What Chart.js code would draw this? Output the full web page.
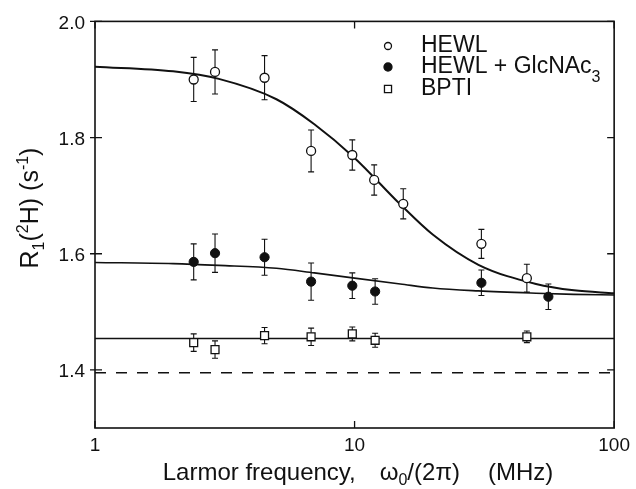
<!DOCTYPE html>
<html>
<head>
<meta charset="utf-8">
<script src="https://cdn.jsdelivr.net/npm/chart.js@4.4.1/dist/chart.umd.min.js"></script>
<style>
  html, body { margin: 0; padding: 0; background: #fff; }
  #wrap { width: 636px; height: 489px; }
</style>
</head>
<body>
<div id="wrap"><canvas id="chart"></canvas></div>
<script>
// measured R1 points (frequency in MHz), with error bar half-widths
const hewlFreq = [2.4, 2.9, 4.5, 6.8, 9.8, 11.9, 15.4, 30.8, 46.1];
const hewlR1 = [1.900, 1.913, 1.903, 1.777, 1.770, 1.727, 1.686, 1.617, 1.558];
const hewlErr = [0.038, 0.038, 0.038, 0.036, 0.026, 0.026, 0.026, 0.025, 0.024];

const glcFreq = [2.4, 2.9, 4.5, 6.8, 9.8, 12.0, 30.8, 55.8];
const glcR1 = [1.586, 1.601, 1.594, 1.552, 1.545, 1.535, 1.550, 1.526];
const glcErr = [0.031, 0.033, 0.031, 0.032, 0.022, 0.022, 0.022, 0.022];

const bptiFreq = [2.4, 2.9, 4.5, 6.8, 9.8, 12.0, 46.1];
const bptiR1 = [1.447, 1.435, 1.459, 1.457, 1.462, 1.451, 1.457];
const bptiErr = [0.015, 0.015, 0.014, 0.015, 0.012, 0.012, 0.010];

// fitted curves
const fitFreq = [1, 2, 3, 5, 7, 10, 15, 20, 30, 50, 70, 100];
const hewlFit = [1.922, 1.914, 1.901, 1.866, 1.823, 1.765, 1.685, 1.633, 1.581, 1.548, 1.537, 1.532];
const glcFit = [1.585, 1.583, 1.580, 1.575, 1.567, 1.558, 1.548, 1.541, 1.536, 1.532, 1.530, 1.529];
const flatFreq = [1, 100];
const bptiFit = [1.454, 1.454];
const bulkLevel = [1.395, 1.395];

const xTicks = [1, 10, 100];
const yTicks = [1.4, 1.6, 1.8, 2.0];

const FONT = "'Liberation Sans', Arial, Helvetica, sans-serif";
const INK = '#111';

function pts(xs, ys) {
    return xs.map((x, i) => ({ x: x, y: ys[i] }));
}

// draws text with sub/superscripts, parts = [text, 0 normal | 1 sub | 2 sup] or a number gap
function drawRich(ctx, parts, x, y, size) {
    const fontOf = (m) => (m ? Math.round(size * 0.65) : size) + 'px ' + FONT;
    const widths = parts.map(p => {
        if (typeof p === 'number') return p;
        ctx.font = fontOf(p[1]);
        return ctx.measureText(p[0]).width;
    });
    let cx = x - widths.reduce((a, b) => a + b, 0) / 2;
    parts.forEach((p, i) => {
        if (typeof p !== 'number') {
            ctx.font = fontOf(p[1]);
            const dy = p[1] === 1 ? size * 0.22 : p[1] === 2 ? -size * 0.42 : 0;
            ctx.fillText(p[0], cx, y + dy);
        }
        cx += widths[i];
    });
}

const errorBars = {
    id: 'errorBars',
    beforeDatasetsDraw(chart) {
        const { ctx, scales: { x, y } } = chart;
        ctx.save();
        ctx.strokeStyle = INK;
        ctx.lineWidth = 1.1;
        chart.data.datasets.forEach(ds => {
            if (!ds.errors) return;
            ds.data.forEach((p, j) => {
                const px = x.getPixelForValue(p.x);
                const top = y.getPixelForValue(p.y + ds.errors[j]);
                const bot = y.getPixelForValue(p.y - ds.errors[j]);
                ctx.beginPath();
                ctx.moveTo(px, top); ctx.lineTo(px, bot);
                ctx.moveTo(px - 3, top); ctx.lineTo(px + 3, top);
                ctx.moveTo(px - 3, bot); ctx.lineTo(px + 3, bot);
                ctx.stroke();
            });
        });
        ctx.restore();
    }
};

const frame = {
    id: 'frame',
    afterDraw(chart) {
        const { ctx, chartArea: a, scales: { x, y } } = chart;
        ctx.save();
        ctx.strokeStyle = INK;
        ctx.lineWidth = 1.6;
        ctx.strokeRect(a.left, a.top, a.right - a.left, a.bottom - a.top);

        // tick marks
        ctx.lineWidth = 1.3;
        ctx.beginPath();
        yTicks.forEach(v => {
            const py = y.getPixelForValue(v);
            ctx.moveTo(a.left - 5, py); ctx.lineTo(a.left + 7, py);
            ctx.moveTo(a.right - 7, py); ctx.lineTo(a.right, py);
        });
        xTicks.forEach(v => {
            const px = x.getPixelForValue(v);
            ctx.moveTo(px, a.bottom); ctx.lineTo(px, a.bottom - 7);
            ctx.moveTo(px, a.top); ctx.lineTo(px, a.top + 7);
        });
        ctx.stroke();

        // axis titles
        ctx.fillStyle = INK;
        ctx.textAlign = 'left';
        ctx.textBaseline = 'alphabetic';
        drawRich(ctx, [['Larmor frequency,', 0], 24, ['ω', 0], ['0', 1], ['/(2π)', 0], 28, ['(MHz)', 0]],
            358, 480, 24);

        ctx.save();
        ctx.translate(38, 208);
        ctx.rotate(-Math.PI / 2);
        drawRich(ctx, [['R', 0], ['1', 1], ['(', 0], ['2', 2], ['H) (s', 0], ['-1', 2], [')', 0]], 0, 0, 25);
        ctx.restore();

        // legend
        const rows = [46, 67, 89];
        const labels = [[['HEWL', 0]], [['HEWL + GlcNAc', 0], ['3', 1]], [['BPTI', 0]]];
        const sizes = [3.5, 4, 5];
        for (let i = 0; i < 3; i++) {
            const ds = chart.data.datasets[i];
            ctx.fillStyle = ds.backgroundColor;
            ctx.strokeStyle = INK;
            ctx.lineWidth = 1.3;
            Chart.helpers.drawPoint(ctx, { pointStyle: ds.pointStyle, radius: sizes[i], rotation: 0, borderWidth: 1.3 }, 388, rows[i]);
            ctx.fillStyle = INK;
            ctx.textBaseline = 'middle';
            let tx = 421;
            labels[i].forEach(p => {
                ctx.font = (p[1] ? 16 : 23) + 'px ' + FONT;
                ctx.fillText(p[0], tx, rows[i] + (p[1] ? 11 : 0));
                tx += ctx.measureText(p[0]).width;
            });
        }
        ctx.restore();
    }
};

const ctx = document.getElementById('chart').getContext('2d');
const chart = new Chart(ctx, {
    type: 'scatter',
    data: {
        datasets: [
            {
                label: 'HEWL',
                data: pts(hewlFreq, hewlR1),
                errors: hewlErr,
                pointStyle: 'circle',
                pointRadius: 4.5,
                backgroundColor: '#fff',
                borderColor: INK,
                borderWidth: 1.3
            },
            {
                label: 'HEWL + GlcNAc3',
                data: pts(glcFreq, glcR1),
                errors: glcErr,
                pointStyle: 'circle',
                pointRadius: 4.6,
                backgroundColor: INK,
                borderColor: INK,
                borderWidth: 1
            },
            {
                label: 'BPTI',
                data: pts(bptiFreq, bptiR1),
                errors: bptiErr,
                pointStyle: 'rect',
                pointRadius: 5.6,
                backgroundColor: '#fff',
                borderColor: INK,
                borderWidth: 1.3
            },
            {
                data: pts(fitFreq, hewlFit),
                showLine: true,
                pointRadius: 0,
                borderColor: INK,
                borderWidth: 2,
                cubicInterpolationMode: 'monotone'
            },
            {
                data: pts(fitFreq, glcFit),
                showLine: true,
                pointRadius: 0,
                borderColor: INK,
                borderWidth: 1.6,
                cubicInterpolationMode: 'monotone'
            },
            {
                data: pts(flatFreq, bptiFit),
                showLine: true,
                pointRadius: 0,
                borderColor: INK,
                borderWidth: 1.6
            },
            {
                data: pts(flatFreq, bulkLevel),
                showLine: true,
                pointRadius: 0,
                borderColor: INK,
                borderWidth: 1.4,
                borderDash: [11, 10]
            }
        ]
    },
    options: {
        responsive: true,
        maintainAspectRatio: false,
        animation: false,
        layout: { padding: { top: 21, right: 20, left: 0, bottom: 0 } },
        plugins: { legend: { display: false }, tooltip: { enabled: false } },
        scales: {
            x: {
                type: 'logarithmic',
                min: 1,
                max: 100,
                grid: { display: false, drawTicks: false },
                border: { display: false },
                afterBuildTicks: (scale) => { scale.ticks = xTicks.map(v => ({ value: v })); },
                afterFit: (scale) => { scale.height = 61; },
                ticks: {
                    padding: 6,
                    color: INK,
                    font: { family: FONT, size: 19 },
                    autoSkip: false,
                    maxRotation: 0,
                    callback: (v) => String(v)
                }
            },
            y: {
                min: 1.3,
                max: 2.0,
                grid: { display: false, drawTicks: false },
                border: { display: false },
                afterBuildTicks: (scale) => { scale.ticks = yTicks.map(v => ({ value: v })); },
                afterFit: (scale) => { scale.width = 95; },
                ticks: {
                    padding: 10,
                    labelOffset: 2,
                    color: INK,
                    font: { family: FONT, size: 19 },
                    callback: (v) => Number(v).toFixed(1)
                }
            }
        }
    },
    plugins: [errorBars, frame]
});
</script>
</body>
</html>
